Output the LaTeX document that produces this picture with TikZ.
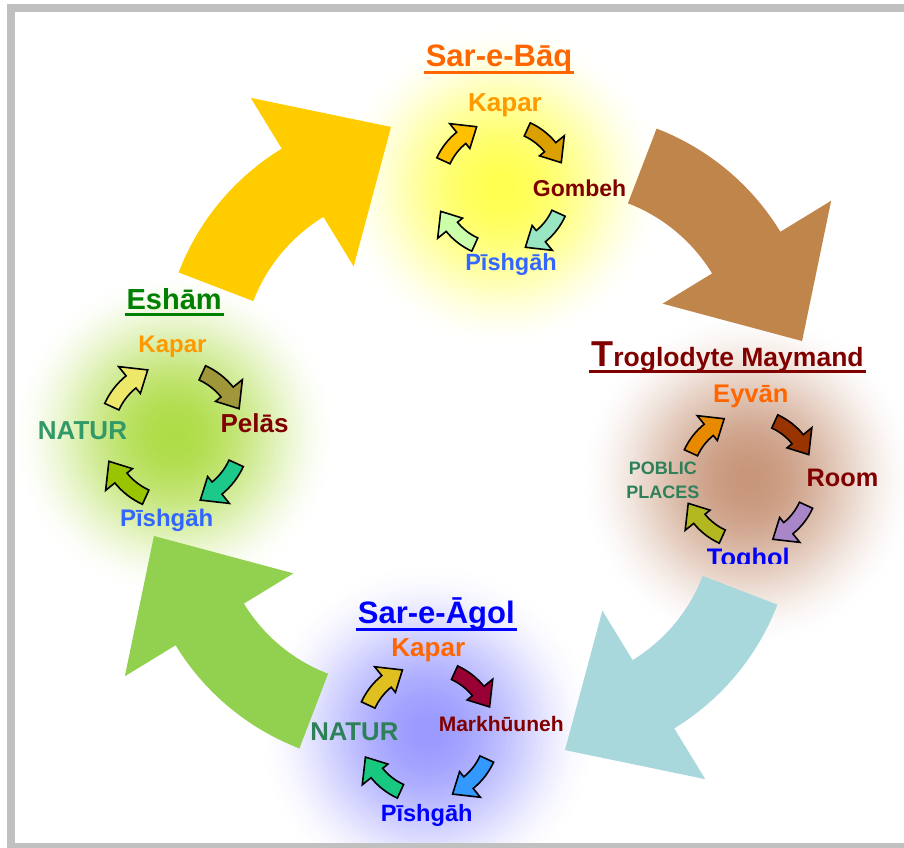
\documentclass[tikz,border=0pt]{standalone}
\usepackage{fontspec}
\setmainfont{Liberation Sans}
% big arrows
\definecolor{bigY}{HTML}{FFCC00}
\definecolor{bigB}{HTML}{C0854A}
\definecolor{bigT}{HTML}{A9D8DC}
\definecolor{bigG}{HTML}{92D050}
% glows
\definecolor{gY}{HTML}{FFFF50}
\definecolor{gG}{HTML}{AEDC46}
\definecolor{gB}{HTML}{C8967A}
\definecolor{gV}{HTML}{9A9AFF}
% small arrows
\definecolor{s1a}{HTML}{FFC000}\definecolor{s1b}{HTML}{D9A000}
\definecolor{s1c}{HTML}{99E6C2}\definecolor{s1d}{HTML}{CCFFAA}
\definecolor{s2a}{HTML}{EEE86A}\definecolor{s2b}{HTML}{A0963A}
\definecolor{s2c}{HTML}{1DC98A}\definecolor{s2d}{HTML}{99C400}
\definecolor{s3a}{HTML}{E88A00}\definecolor{s3b}{HTML}{993300}
\definecolor{s3c}{HTML}{A886C8}\definecolor{s3d}{HTML}{B3B820}
\definecolor{s4a}{HTML}{E0C020}\definecolor{s4b}{HTML}{990033}
\definecolor{s4c}{HTML}{3399FF}\definecolor{s4d}{HTML}{19C880}
% text colours
\definecolor{tOrange}{HTML}{FF6600}
\definecolor{tKapar}{HTML}{FF9900}
\definecolor{tDark}{HTML}{800000}
\definecolor{tPish}{HTML}{3366FF}
\definecolor{tBlue}{HTML}{0000FF}
\definecolor{tNatur}{HTML}{339966}
\definecolor{tNaturB}{HTML}{2E8059}
\definecolor{tGreen}{HTML}{008000}
\definecolor{frameGray}{HTML}{C0C0C0}
\tikzset{
  lbl/.style={inner sep=0pt, outer sep=0pt, anchor=base},
  fs/.style={font=\bfseries\fontsize{#1}{#1}\selectfont},
  uline/.style={line width=3pt, shorten <=-2pt, shorten >=-2pt},
  pics/glow/.style 2 args={code={
    \foreach \k in {60,59,...,1}{
      \pgfmathsetmacro\gr{#2*\k/60}
      \pgfmathsetmacro\gp{100*(1-(\k/60)^2)^2}
      \fill[#1!\gp!white] (0,0) circle (\gr);
    }}},
  pics/bigarrow/.style={code={
    \fill[#1] (-159:250) arc[start angle=-159, end angle=-121.4, radius=250]
      -- (-121.4:309.5) -- (-95.1:236) -- (-121.4:112) -- (-121.4:170)
      arc[start angle=-121.4, end angle=-159, radius=170] -- cycle;}},
  pics/smallarrow/.style 2 args={code={
    \filldraw[fill=#2, draw=black, line width=1.6pt, line join=miter]
      ({#1+24.5}:70.5) arc[start angle={#1+24.5}, end angle={#1+51}, radius=70.5]
      -- ({#1+51}:81.5) -- ({#1+68}:65) -- ({#1+51}:49.5) -- ({#1+51}:56)
      arc[start angle={#1+51}, end angle={#1+24.5}, radius=56] -- cycle;}}
}
\begin{document}
\begin{tikzpicture}[x=1pt,y=-1pt]
\useasboundingbox (0,0) rectangle (904,847);
\fill[white] (0,0) rectangle (904,847);
% glows
\pic at (501,187) {glow={gY}{165}};
\pic at (174,435) {glow={gG}{165}};
\pic at (748.5,479) {glow={gB}{170}};
\pic at (427.5,732) {glow={gV}{170}};
% big arrows
\pic at (412,362) {bigarrow=bigY};
\pic[rotate=-90] at (567,362) {bigarrow=bigB};
\pic[rotate=180] at (544,515) {bigarrow=bigT};
\pic[rotate=90] at (389,515) {bigarrow=bigG};
% small arrows: Sar-e-Baq
\pic at (501,187) {smallarrow={-180}{s1a}};
\pic at (501,187) {smallarrow={-90}{s1b}};
\pic at (501,187) {smallarrow={0}{s1c}};
\pic at (501,187) {smallarrow={90}{s1d}};
% Esham
\pic[scale=1.08] at (174,435) {smallarrow={-180}{s2a}};
\pic[scale=1.08] at (174,435) {smallarrow={-90}{s2b}};
\pic[scale=1.08] at (174,435) {smallarrow={0}{s2c}};
\pic[scale=1.08] at (174,435) {smallarrow={90}{s2d}};
% Troglodyte
\pic at (748.5,479) {smallarrow={-180}{s3a}};
\pic at (748.5,479) {smallarrow={-90}{s3b}};
\pic at (748.5,479) {smallarrow={0}{s3c}};
\pic at (748.5,479) {smallarrow={90}{s3d}};
% Agol
\pic[scale=1.03] at (427.5,732) {smallarrow={-180}{s4a}};
\pic[scale=1.03] at (427.5,732) {smallarrow={-90}{s4b}};
\pic[scale=1.03] at (427.5,732) {smallarrow={0}{s4c}};
\pic[scale=1.03] at (427.5,732) {smallarrow={90}{s4d}};
% titles
\node[lbl, fs=31, text=tOrange] (tbaq) at (499,66) {Sar-e-Bāq};
\draw[uline, tOrange] ([yshift=-6.8pt]tbaq.base west) -- ([yshift=-6.8pt]tbaq.base east);
\node[lbl, fs=29, text=tGreen] (tesh) at (174.2,309.5) {Eshām};
\draw[uline, tGreen] ([yshift=-4.5pt]tesh.base west) -- ([yshift=-4.5pt]tesh.base east);
\node[lbl, fs=26.5, text=tDark] (ttro) at (727.5,366.7) {{\fontsize{36}{36}\selectfont T}roglodyte Maymand};
\draw[uline, line width=2.5pt, tDark] ([yshift=-5pt]ttro.base west) -- ([yshift=-5pt]ttro.base east);
\node[lbl, fs=31, text=tBlue] (tago) at (436.3,623.3) {Sar-e-Āgol};
\draw[uline, tBlue] ([yshift=-5.7pt]tago.base west) -- ([yshift=-5.7pt]tago.base east);
% Sar-e-Baq labels
\node[lbl, fs=26, text=tKapar] (bkap) at (505,111) {Kapar};
\node[lbl, fs=23, text=tDark] (bgom) at (579.5,196.7) {Gombeh};
\node[lbl, fs=23.5, text=tPish] (bpis) at (511,270.7) {Pīshgāh};
% Esham labels
\node[lbl, fs=24, text=tKapar] (ekap) at (172.5,352.7) {Kapar};
\node[lbl, fs=26, text=tDark] (epel) at (254.5,432.7) {Pelās};
\node[lbl, fs=26, text=tNatur] (enat) at (82.5,439.3) {NATUR};
\node[lbl, fs=24, text=tPish] (epis) at (166.7,526.7) {Pīshgāh};
% Troglodyte labels
\node[lbl, fs=25.5, text=tOrange] (teyv) at (750.8,402.7) {Eyvān};
\node[lbl, fs=25.3, text=tDark] (troo) at (842.5,486) {Room};
\begin{scope}
\clip (0,0) rectangle (904,563.5);
\node[lbl, fs=25.4, text=tBlue] (ttog) at (748.3,566.5) {Toghol};
\end{scope}
\node[lbl, fs=18, text=tNaturB] (tpob) at (662.8,474) {POBLIC};
\node[lbl, fs=18, text=tNaturB] (tpla) at (662.8,498.3) {PLACES};
% Agol labels
\node[lbl, fs=26, text=tOrange] (akap) at (428.3,656) {Kapar};
\node[lbl, fs=21, text=tDark] (amar) at (501.2,731.7) {Markhūuneh};
\node[lbl, fs=25.7, text=tNaturB] (anat) at (354.3,740.7) {NATUR};
\node[lbl, fs=23.6, text=tBlue] (apis) at (426.7,821.7) {Pīshgāh};
% frame
\draw[frameGray, line width=8pt] (10.7,8) rectangle (940,847);
\end{tikzpicture}
\end{document}
